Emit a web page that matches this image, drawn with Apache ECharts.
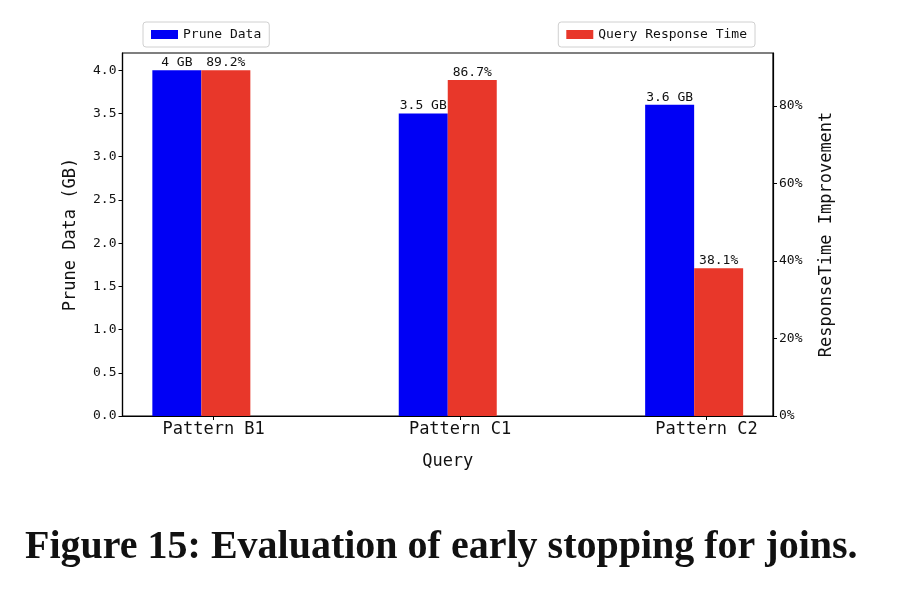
<!DOCTYPE html>
<html>
<head>
<meta charset="utf-8">
<script src="https://cdn.jsdelivr.net/npm/echarts@6/dist/echarts.min.js"></script>
<style>html,body{margin:0;padding:0;background:#fff;}#c{width:914px;height:596px;}</style>
</head>
<body>
<div id="c"></div>
<script>
const categories = ['Pattern B1', 'Pattern C1', 'Pattern C2'];
const pruneData = [4, 3.5, 3.6];
const pruneLabels = ['4 GB', '3.5 GB', '3.6 GB'];
const responseImprovement = [89.2, 86.7, 38.1];
const leftTicks = [0, 0.5, 1.0, 1.5, 2.0, 2.5, 3.0, 3.5, 4.0];
const rightTicks = [0, 20, 40, 60, 80];
const xTickOffset = 0.05;

const mono = 'DejaVu Sans Mono';
const chart = echarts.init(document.getElementById('c'), null, {renderer: 'canvas'});
const xTicks = categories.map((c, i) => i + xTickOffset);

chart.setOption({
  animation: false,
  backgroundColor: '#fff',
  title: {
    text: 'Figure 15: Evaluation of early stopping for joins.',
    left: 20, top: 523,
    textStyle: {fontFamily: 'Liberation Serif', fontWeight: 'bold', fontSize: 40, color: '#111'}
  },
  legend: [
    {
      data: ['Prune Data'], left: 143, top: 22, icon: 'rect',
      itemWidth: 27, itemHeight: 9, padding: [6, 8, 6, 8],
      borderColor: '#d0d0d0', borderWidth: 1, borderRadius: 3,
      textStyle: {fontFamily: mono, fontSize: 13, color: '#111'}
    },
    {
      data: ['Query Response Time'], right: 159, top: 22, icon: 'rect',
      itemWidth: 27, itemHeight: 9, padding: [6, 8, 6, 8],
      borderColor: '#d0d0d0', borderWidth: 1, borderRadius: 3,
      textStyle: {fontFamily: mono, fontSize: 13, color: '#111'}
    }
  ],
  grid: {left: 122.5, right: 141, top: 53, bottom: 180, show: true, borderColor: '#000', borderWidth: 1.2},
  xAxis: {
    type: 'value', min: -0.32, max: 2.32,
    name: 'Query', nameLocation: 'middle', nameGap: 37,
    nameTextStyle: {fontFamily: mono, fontSize: 17, color: '#111'},
    axisLine: {show: true, onZero: false, lineStyle: {color: '#000', width: 1.2}},
    axisTick: {show: true, length: 4, customValues: xTicks, lineStyle: {color: '#000'}},
    axisLabel: {
      customValues: xTicks, fontFamily: mono, fontSize: 17, color: '#111', margin: 5,
      formatter: v => categories[Math.round(v - xTickOffset)]
    },
    splitLine: {show: false}
  },
  yAxis: [
    {
      type: 'value', min: 0, max: 4.2, position: 'left',
      name: 'Prune Data (GB)', nameLocation: 'middle', nameGap: 43,
      nameTextStyle: {fontFamily: mono, fontSize: 17, color: '#111'},
      axisLine: {show: true, onZero: false, lineStyle: {color: '#000', width: 1.2}},
      axisTick: {show: true, length: 4, customValues: leftTicks, lineStyle: {color: '#000'}},
      axisLabel: {customValues: leftTicks, fontFamily: mono, fontSize: 13, color: '#111', margin: 6,
        formatter: v => v.toFixed(1)},
      splitLine: {show: false}
    },
    {
      type: 'value', min: 0, max: 93.66, position: 'right',
      name: 'ResponseTime Improvement', nameLocation: 'middle', nameGap: 45,
      nameTextStyle: {fontFamily: mono, fontSize: 17, color: '#111'},
      axisLine: {show: true, onZero: false, lineStyle: {color: '#000', width: 1.2}},
      axisTick: {show: true, length: 4, customValues: rightTicks, lineStyle: {color: '#000'}},
      axisLabel: {customValues: rightTicks, fontFamily: mono, fontSize: 13, color: '#111', margin: 6,
        formatter: v => Math.round(v) + '%'},
      splitLine: {show: false}
    }
  ],
  series: [
    {
      name: 'Prune Data', type: 'bar', yAxisIndex: 0,
      barWidth: 49, barGap: '0%',
      itemStyle: {color: '#0000f5'},
      data: pruneData.map((v, i) => [i, v]),
      label: {show: true, position: 'top', distance: 1, fontFamily: mono, fontSize: 13, color: '#111',
        formatter: p => pruneLabels[p.dataIndex]}
    },
    {
      name: 'Query Response Time', type: 'bar', yAxisIndex: 1,
      barWidth: 49, barGap: '0%',
      itemStyle: {color: '#e8372a'},
      data: responseImprovement.map((v, i) => [i, v]),
      label: {show: true, position: 'top', distance: 1, fontFamily: mono, fontSize: 13, color: '#111',
        formatter: p => responseImprovement[p.dataIndex].toFixed(1) + '%'}
    }
  ]
});
</script>
</body>
</html>
